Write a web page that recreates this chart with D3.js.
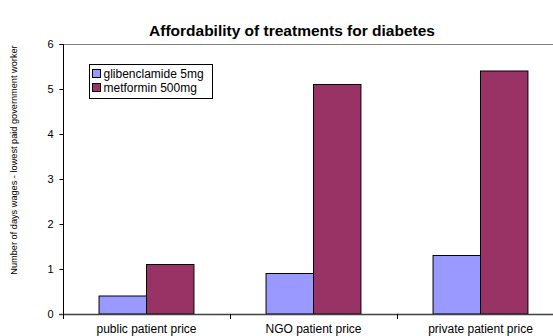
<!DOCTYPE html>
<html>
<head>
<meta charset="utf-8">
<script src="https://cdn.jsdelivr.net/npm/d3@7"></script>
<style>
  html, body { margin: 0; padding: 0; background: #fff; overflow: hidden; }
  svg { display: block; font-family: "Liberation Sans", Arial, sans-serif; }
</style>
</head>
<body>
<svg id="chart" width="553" height="336"></svg>
<script>
// Chart data
const categories = ["public patient price", "NGO patient price", "private patient price"];
const seriesNames = ["glibenclamide 5mg", "metformin 500mg"];
const glibenclamide = [0.4, 0.9, 1.3];
const metformin = [1.1, 5.1, 5.4];
const yTicks = [0, 1, 2, 3, 4, 5, 6];
const seriesColors = ["#9999FF", "#993366"];

const seriesValues = [glibenclamide, metformin];

const width = 553;
const svg = d3.select("#chart");
const margin = { left: 63, top: 44, plotWidth: 501, plotHeight: 270 };
const plotRight = Math.min(margin.left + margin.plotWidth, width);

const x = d3.scaleBand()
  .domain(categories)
  .range([margin.left, margin.left + margin.plotWidth])
  .paddingInner(0)
  .paddingOuter(0);

// Two bars per category, with wide gaps at each side of the pair
const xInner = d3.scaleBand()
  .domain(seriesNames)
  .range([0, x.bandwidth()])
  .paddingInner(0)
  .paddingOuter(0.76);

const y = d3.scaleLinear()
  .domain([0, 6])
  .range([margin.top + margin.plotHeight, margin.top]);

// Title
svg.append("text")
  .attr("x", 292)
  .attr("y", 36)
  .attr("text-anchor", "middle")
  .attr("font-size", 15.5)
  .attr("font-weight", "bold")
  .text("Affordability of treatments for diabetes");

// Top border line of the plot area
svg.append("line")
  .attr("x1", margin.left).attr("x2", plotRight)
  .attr("y1", y(6) + 0.5).attr("y2", y(6) + 0.5)
  .attr("stroke", "#808080").attr("stroke-width", 1);

// Bars
const groups = svg.append("g").selectAll("g")
  .data(categories)
  .join("g")
  .attr("transform", d => `translate(${x(d)},0)`);

groups.selectAll("rect")
  .data((d, i) => seriesNames.map((s, j) => ({ s, v: seriesValues[j][i], j })))
  .join("rect")
  .attr("x", d => xInner(d.s))
  .attr("y", d => y(d.v))
  .attr("width", xInner.bandwidth())
  .attr("height", d => y(0) - y(d.v))
  .attr("fill", d => seriesColors[d.j])
  .attr("stroke", "#000")
  .attr("stroke-width", 1);

// Y axis
const yAxis = svg.append("g")
  .attr("transform", `translate(${margin.left + 0.5},0)`)
  .call(d3.axisLeft(y).tickValues(yTicks).tickSize(4).tickPadding(6).tickFormat(d3.format("d")));
yAxis.select(".domain").attr("stroke", "#000").attr("d", `M-4,${y(6) + 0.5}H0V${y(0) + 0.5}`);
yAxis.selectAll(".tick line").attr("stroke", "#000");
yAxis.selectAll(".tick text").attr("font-size", 11).attr("fill", "#000")
  .attr("font-family", "Liberation Sans, Arial, sans-serif");

// X axis
const boundaries = categories.map(c => x(c));
const xAxisG = svg.append("g");
xAxisG.append("line")
  .attr("x1", margin.left - 4).attr("x2", plotRight)
  .attr("y1", y(0) + 0.5).attr("y2", y(0) + 0.5)
  .attr("stroke", "#404040").attr("stroke-width", 1.5);
xAxisG.selectAll("line.tick")
  .data(boundaries)
  .join("line")
  .attr("class", "tick")
  .attr("x1", d => Math.round(d) + 0.5).attr("x2", d => Math.round(d) + 0.5)
  .attr("y1", y(0)).attr("y2", y(0) + 5)
  .attr("stroke", "#000");
xAxisG.selectAll("text.cat")
  .data(categories)
  .join("text")
  .attr("class", "cat")
  .attr("x", d => x(d) + x.bandwidth() / 2)
  .attr("y", 333)
  .attr("text-anchor", "middle")
  .attr("font-size", 12)
  .text(d => d);

// Y axis title
svg.append("text")
  .attr("transform", "translate(17,160) rotate(-90)")
  .attr("text-anchor", "middle")
  .attr("font-size", 9.2)
  .text("Number of days wages - lowest paid government worker");

// Legend
const legend = svg.append("g").attr("transform", "translate(89.5,64.5)");
legend.append("rect")
  .attr("width", 123).attr("height", 34)
  .attr("fill", "#fff").attr("stroke", "#000");
seriesNames.forEach((name, i) => {
  legend.append("rect")
    .attr("x", 3).attr("y", 5 + i * 14)
    .attr("width", 8).attr("height", 8)
    .attr("fill", seriesColors[i]).attr("stroke", "#000");
  legend.append("text")
    .attr("x", 14).attr("y", 13.5 + i * 14)
    .attr("font-size", 12)
    .text(name);
});
</script>
</body>
</html>
